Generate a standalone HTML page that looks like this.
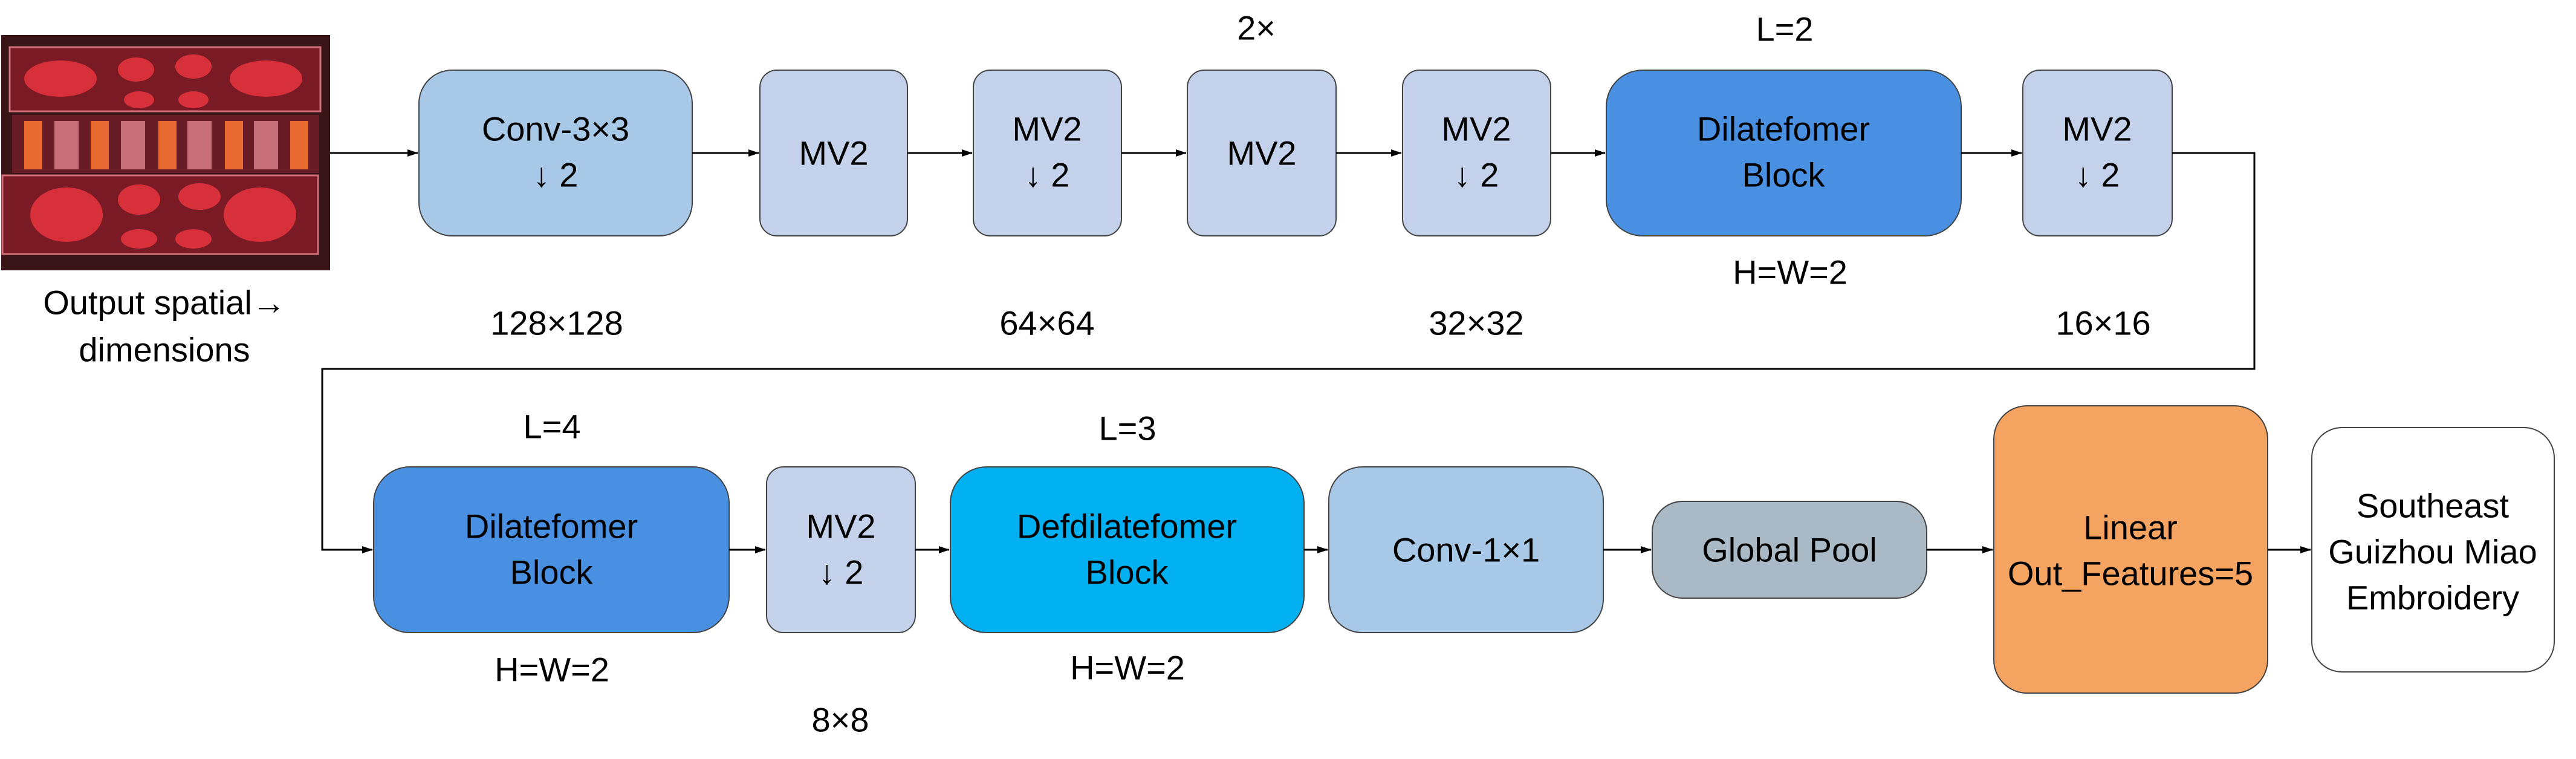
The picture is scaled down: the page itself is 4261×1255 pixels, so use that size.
<!DOCTYPE html>
<html><head><meta charset="utf-8">
<style>
html,body{margin:0;padding:0;background:#fff;}
svg{display:block;}
text{font-family:"Liberation Sans",Arial,sans-serif;fill:#000;}
</style></head>
<body>
<svg width="4261" height="1255" viewBox="0 0 4261 1255" xmlns="http://www.w3.org/2000/svg">
<defs>
<marker id="ah" viewBox="0 0 18 12" refX="17" refY="6" markerWidth="18" markerHeight="12" markerUnits="userSpaceOnUse" orient="auto">
<path d="M0,0 L18,6 L0,12 z" fill="#000"/>
</marker>
</defs>

<!-- embroidery image -->
<g>
<rect x="2" y="58" width="544" height="389" fill="#3a1518"/>
<rect x="16" y="78" width="514" height="106" fill="#7a1a24" stroke="#d0707a" stroke-width="3"/>
<rect x="20" y="190" width="508" height="96" fill="#6a1c26"/>
<rect x="4" y="290" width="522" height="130" fill="#7a1a24" stroke="#d0707a" stroke-width="3"/>
<g fill="#d8303a">
<ellipse cx="100" cy="130" rx="60" ry="30"/><ellipse cx="440" cy="130" rx="60" ry="30"/>
<ellipse cx="225" cy="115" rx="30" ry="20"/><ellipse cx="320" cy="110" rx="30" ry="20"/>
<ellipse cx="230" cy="165" rx="25" ry="14"/><ellipse cx="320" cy="165" rx="25" ry="14"/>
<ellipse cx="110" cy="355" rx="60" ry="45"/><ellipse cx="430" cy="355" rx="60" ry="45"/>
<ellipse cx="230" cy="330" rx="35" ry="25"/><ellipse cx="330" cy="325" rx="35" ry="22"/>
<ellipse cx="230" cy="395" rx="30" ry="16"/><ellipse cx="320" cy="395" rx="30" ry="16"/>
</g>
<g fill="#e86a30">
<rect x="40" y="200" width="30" height="80"/><rect x="150" y="200" width="30" height="80"/>
<rect x="262" y="200" width="30" height="80"/><rect x="372" y="200" width="30" height="80"/>
<rect x="480" y="200" width="30" height="80"/>
</g>
<g fill="#c8707a">
<rect x="90" y="200" width="40" height="80"/><rect x="200" y="200" width="40" height="80"/>
<rect x="310" y="200" width="40" height="80"/><rect x="420" y="200" width="40" height="80"/>
</g>
</g>

<!-- top row boxes -->
<g stroke="#444" stroke-width="2">
<rect x="693" y="116" width="452" height="274" rx="55" fill="#a8c8e8"/>
<rect x="1257" y="116" width="244" height="274" rx="28" fill="#c3d1ea"/>
<rect x="1610" y="116" width="245" height="274" rx="28" fill="#c3d1ea"/>
<rect x="1964" y="116" width="246" height="274" rx="28" fill="#c3d1ea"/>
<rect x="2320" y="116" width="245" height="274" rx="28" fill="#c3d1ea"/>
<rect x="2657" y="116" width="587" height="274" rx="60" fill="#4a90e2"/>
<rect x="3346" y="116" width="247" height="274" rx="28" fill="#c3d1ea"/>
</g>

<!-- top arrows -->
<g stroke="#000" stroke-width="3" fill="none">
<line x1="546" y1="253" x2="691" y2="253" marker-end="url(#ah)"/>
<line x1="1145" y1="253" x2="1255" y2="253" marker-end="url(#ah)"/>
<line x1="1501" y1="253" x2="1608" y2="253" marker-end="url(#ah)"/>
<line x1="1855" y1="253" x2="1962" y2="253" marker-end="url(#ah)"/>
<line x1="2210" y1="253" x2="2318" y2="253" marker-end="url(#ah)"/>
<line x1="2565" y1="253" x2="2655" y2="253" marker-end="url(#ah)"/>
<line x1="3244" y1="253" x2="3344" y2="253" marker-end="url(#ah)"/>
<polyline points="3593,253 3729,253 3729,610 533,610 533,909 616,909" marker-end="url(#ah)"/>
</g>

<!-- row2 boxes -->
<g stroke="#444" stroke-width="2">
<rect x="618" y="772" width="588" height="274" rx="60" fill="#4a90e2"/>
<rect x="1268" y="772" width="246" height="274" rx="28" fill="#c3d1ea"/>
<rect x="1572" y="772" width="585" height="274" rx="60" fill="#00b0f0"/>
<rect x="2198" y="772" width="454" height="274" rx="55" fill="#a8c8e8"/>
<rect x="2733" y="829" width="454" height="160" rx="50" fill="#a9bac6"/>
<rect x="3298" y="671" width="453" height="475" rx="55" fill="#f4a460"/>
<rect x="3824" y="707" width="401" height="404" rx="50" fill="#ffffff"/>
</g>
<g stroke="#000" stroke-width="3" fill="none">
<line x1="1206" y1="909" x2="1266" y2="909" marker-end="url(#ah)"/>
<line x1="1514" y1="909" x2="1570" y2="909" marker-end="url(#ah)"/>
<line x1="2157" y1="909" x2="2196" y2="909" marker-end="url(#ah)"/>
<line x1="2652" y1="909" x2="2731" y2="909" marker-end="url(#ah)"/>
<line x1="3187" y1="909" x2="3296" y2="909" marker-end="url(#ah)"/>
<line x1="3751" y1="909" x2="3822" y2="909" marker-end="url(#ah)"/>
</g>

<!-- texts -->
<g font-size="56" text-anchor="middle" dominant-baseline="central">
<text x="919" y="213">Conv-3×3</text><text x="919" y="289">↓ 2</text>
<text x="1379" y="253">MV2</text>
<text x="1732" y="213">MV2</text><text x="1732" y="289">↓ 2</text>
<text x="2087" y="253">MV2</text>
<text x="2442" y="213">MV2</text><text x="2442" y="289">↓ 2</text>
<text x="2950" y="213">Dilatefomer</text><text x="2950" y="289">Block</text>
<text x="3469" y="213">MV2</text><text x="3469" y="289">↓ 2</text>

<text x="912" y="870">Dilatefomer</text><text x="912" y="946">Block</text>
<text x="1391" y="870">MV2</text><text x="1391" y="946">↓ 2</text>
<text x="1864" y="870">Defdilatefomer</text><text x="1864" y="946">Block</text>
<text x="2425" y="909">Conv-1×1</text>
<text x="2960" y="909">Global Pool</text>
<text x="3524" y="872">Linear</text><text x="3524" y="948">Out_Features=5</text>
<text x="4024" y="836">Southeast</text><text x="4024" y="912">Guizhou Miao</text><text x="4024" y="988">Embroidery</text>

<text x="2078" y="46">2×</text>
<text x="2952" y="48">L=2</text>
<text x="2961" y="450">H=W=2</text>
<text x="921" y="534">128×128</text>
<text x="1732" y="534">64×64</text>
<text x="2442" y="534">32×32</text>
<text x="3479" y="534">16×16</text>
<text x="913" y="705">L=4</text>
<text x="1865" y="708">L=3</text>
<text x="913" y="1107">H=W=2</text>
<text x="1865" y="1104">H=W=2</text>
<text x="1390" y="1190">8×8</text>
<text x="272" y="500">Output spatial→</text>
<text x="272" y="578">dimensions</text>
</g>
</svg>
</body></html>
